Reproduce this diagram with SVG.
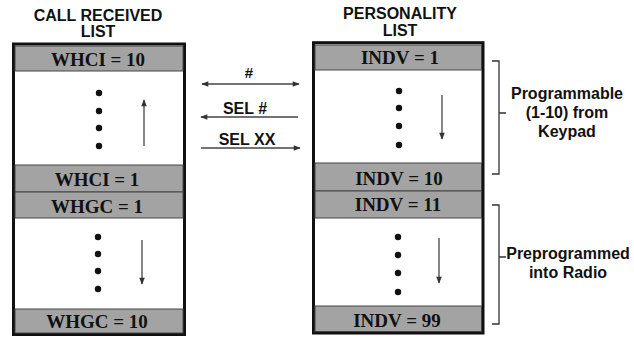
<svg xmlns="http://www.w3.org/2000/svg" width="634" height="337" viewBox="0 0 634 337">
<defs>
<marker id="ah" viewBox="0 0 10 10" refX="9" refY="5" markerWidth="9" markerHeight="7" markerUnits="userSpaceOnUse" orient="auto-start-reverse">
<path d="M0,1 L10,5 L0,9 Z" fill="#333"/>
</marker>
<style>
.hdr{font-family:"Liberation Sans",Arial,sans-serif;font-weight:bold;font-size:16px;fill:#111;text-anchor:middle}
.cell{font-family:"Liberation Serif","Times New Roman",serif;font-weight:bold;font-size:19px;fill:#111;text-anchor:middle}
.band{fill:#a3a3a3;stroke:#444;stroke-width:1}
.box{fill:#fff;stroke:#111;stroke-width:3}
.dot{fill:#111}
.arr{stroke:#444;stroke-width:1.3;fill:none;marker-end:url(#ah)}
.dbl{stroke:#444;stroke-width:1.3;fill:none;marker-end:url(#ah);marker-start:url(#ah)}
.brk{stroke:#333;stroke-width:1.3;fill:none}
</style>
</defs>
<rect width="634" height="337" fill="#fff"/>
<g id="call-received-list">
<text class="hdr" x="98" y="21">CALL RECEIVED</text>
<text class="hdr" x="98" y="37">LIST</text>
<rect class="box" x="13.5" y="44" width="171" height="290.5"/>
<rect class="band" x="15" y="46" width="168" height="25"/>
<rect class="band" x="15" y="165" width="168" height="27"/>
<rect class="band" x="15" y="192" width="168" height="26"/>
<rect class="band" x="15" y="309" width="168" height="24"/>
<text class="cell" x="98" y="66">WHCI = 10</text>
<text class="cell" x="97" y="186">WHCI = 1</text>
<text class="cell" x="97" y="213">WHGC = 1</text>
<text class="cell" x="97" y="328">WHGC = 10</text>
<circle class="dot" cx="99" cy="93" r="3.2"/>
<circle class="dot" cx="99" cy="111" r="3.2"/>
<circle class="dot" cx="99" cy="128" r="3.2"/>
<circle class="dot" cx="99" cy="146" r="3.2"/>
<circle class="dot" cx="98" cy="237" r="3.2"/>
<circle class="dot" cx="98" cy="254" r="3.2"/>
<circle class="dot" cx="98" cy="271" r="3.2"/>
<circle class="dot" cx="98" cy="289" r="3.2"/>
<line class="arr" x1="144" y1="146" x2="144" y2="100"/>
<line class="arr" x1="142" y1="240" x2="142" y2="284"/>
</g>
<g id="personality-list">
<text class="hdr" x="400" y="19">PERSONALITY</text>
<text class="hdr" x="400" y="36">LIST</text>
<rect class="box" x="313.5" y="42.7" width="169.5" height="290.3"/>
<rect class="band" x="315" y="45" width="166.5" height="25"/>
<rect class="band" x="315" y="163" width="166.5" height="28"/>
<rect class="band" x="315" y="191" width="166.5" height="27"/>
<rect class="band" x="315" y="306" width="166.5" height="25.5"/>
<text class="cell" x="400" y="64">INDV = 1</text>
<text class="cell" x="399" y="185">INDV = 10</text>
<text class="cell" x="398" y="211">INDV = 11</text>
<text class="cell" x="397" y="327">INDV = 99</text>
<circle class="dot" cx="399" cy="91" r="3.2"/>
<circle class="dot" cx="399" cy="108" r="3.2"/>
<circle class="dot" cx="399" cy="126" r="3.2"/>
<circle class="dot" cx="399" cy="145" r="3.2"/>
<circle class="dot" cx="398" cy="237" r="3.2"/>
<circle class="dot" cx="398" cy="255" r="3.2"/>
<circle class="dot" cx="398" cy="273" r="3.2"/>
<circle class="dot" cx="398" cy="292" r="3.2"/>
<line class="arr" x1="442" y1="95" x2="442" y2="139"/>
<line class="arr" x1="439" y1="238" x2="439" y2="283"/>
</g>
<g id="connectors">
<line class="dbl" x1="202" y1="84" x2="299" y2="84"/>
<line class="arr" x1="298" y1="117" x2="201" y2="117"/>
<line class="arr" x1="201" y1="148" x2="300" y2="148"/>
<text class="hdr" x="249" y="78" style="font-size:15px">#</text>
<text class="hdr" x="245" y="114">SEL #</text>
<text class="hdr" x="247" y="145">SEL XX</text>
</g>
<g id="bracket-programmable">
<path class="brk" d="M492,61 H499 V174 H492 M499,113 H506"/>
<text class="hdr" x="567" y="99">Programmable</text>
<text class="hdr" x="567" y="118">(1-10) from</text>
<text class="hdr" x="567" y="137">Keypad</text>
</g>
<g id="bracket-preprogrammed">
<path class="brk" d="M492,205 H499 V324 H492 M499,257 H506"/>
<text class="hdr" x="568" y="259">Preprogrammed</text>
<text class="hdr" x="568" y="278">into Radio</text>
</g>
</svg>
